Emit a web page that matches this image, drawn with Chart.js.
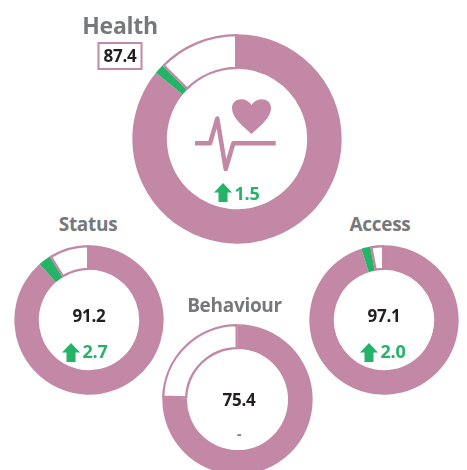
<!DOCTYPE html>
<html>
<head>
<meta charset="utf-8">
<script src="https://cdn.jsdelivr.net/npm/chart.js@4"></script>
<style>
html, body { margin: 0; padding: 0; background: #fff; width: 467px; height: 470px; overflow: hidden; }
body { position: relative; font-family: "Open Sans", sans-serif; }
canvas { position: absolute; }
.title, .value, .change { position: absolute; transform: translate(-50%, -50%); white-space: nowrap; font-weight: 700; }
.title { color: #77787b; font-size: 19px; letter-spacing: -0.3px; }
.value { color: #231f20; font-size: 17px; letter-spacing: -0.3px; }
.change { color: #25b368; font-size: 18px; letter-spacing: -0.3px; }
.arrow { position: absolute; }
#c0 { left: 132px; top: 34px; }
#c1 { left: 14px; top: 245px; }
#c2 { left: 309px; top: 245px; }
#c3 { left: 162px; top: 324px; }
#t0 { left: 120px; top: 25px; font-size: 23px; }
#t1 { left: 88px; top: 224px; }
#t2 { left: 380px; top: 224px; }
#t3 { left: 234.5px; top: 305px; }
#v0 { left: 120px; top: 56px; width: 41px; height: 24px; line-height: 24px; text-align: center; border: 2px solid #c288a5; }
#v1 { left: 89px; top: 315px; }
#v2 { left: 384px; top: 315px; }
#v3 { left: 239px; top: 399px; }
#d0 { left: 247px; top: 193px; }
#d1 { left: 95px; top: 351px; }
#d2 { left: 393px; top: 351px; }
#d3 { left: 239px; top: 433px; color: #77787b; font-size: 14px; }
#a0 { left: 214px; top: 183px; }
#a1 { left: 62px; top: 343px; }
#a2 { left: 360px; top: 343px; }
#icon { position: absolute; left: 190px; top: 95px; }
</style>
</head>
<body>
<canvas id="c0" width="210" height="210"></canvas>
<canvas id="c1" width="150" height="150"></canvas>
<canvas id="c2" width="150" height="150"></canvas>
<canvas id="c3" width="151" height="151"></canvas>

<div class="title" id="t0"></div><div class="title" id="t1"></div>
<div class="title" id="t2"></div><div class="title" id="t3"></div>
<div class="value" id="v0"></div><div class="value" id="v1"></div>
<div class="value" id="v2"></div><div class="value" id="v3"></div>
<div class="change" id="d0"></div><div class="change" id="d1"></div>
<div class="change" id="d2"></div><div class="change" id="d3"></div>

<svg class="arrow" id="a0" width="18" height="19"><path d="M9 0L18 9.5H13.5V19H4.5V9.5H0Z" fill="#25b368"/></svg>
<svg class="arrow" id="a1" width="18" height="19"><path d="M9 0L18 9.5H13.5V19H4.5V9.5H0Z" fill="#25b368"/></svg>
<svg class="arrow" id="a2" width="18" height="19"><path d="M9 0L18 9.5H13.5V19H4.5V9.5H0Z" fill="#25b368"/></svg>

<svg id="icon" width="90" height="80" viewBox="190 95 90 80">
  <path d="M251.5 134C243 126 232 118 232 108C232 98 246 96 251.5 105C257 96 271 98 271 108C271 118 260 126 251.5 134Z" fill="#c288a5"/>
  <path d="M195 143.3H210L217.3 118.5L225.7 169L233.3 143.3H275.7" fill="none" stroke="#c288a5" stroke-width="4.5" stroke-linejoin="round"/>
</svg>

<script>
const categories = ['Health', 'Status', 'Access', 'Behaviour'];
const scores = [87.4, 91.2, 97.1, 75.4];
const changes = [1.5, 2.7, 2.0, 0];
const PINK = '#c288a5';
const GREEN = '#25b368';

categories.forEach(function (name, i) {
    document.getElementById('t' + i).textContent = name;
    document.getElementById('v' + i).textContent = scores[i].toFixed(1);
    document.getElementById('d' + i).textContent = changes[i] > 0 ? changes[i].toFixed(1) : '-';

    // pink runs up to the old score, green is the gain, white is what is left
    new Chart(document.getElementById('c' + i), {
        type: 'doughnut',
        data: {
            labels: ['Previous', 'Change', 'Remaining'],
            datasets: [{
                data: [scores[i] - changes[i], changes[i], 100 - scores[i]],
                backgroundColor: [PINK, GREEN, '#ffffff'],
                borderColor: [PINK, GREEN, PINK],
                borderWidth: [0, 0, 2],
                borderAlign: 'inner'
            }]
        },
        options: {
            responsive: false,
            animation: false,
            cutout: '66.5%',
            plugins: {
                legend: { display: false },
                tooltip: { enabled: false }
            }
        }
    });
});
</script>
</body>
</html>
